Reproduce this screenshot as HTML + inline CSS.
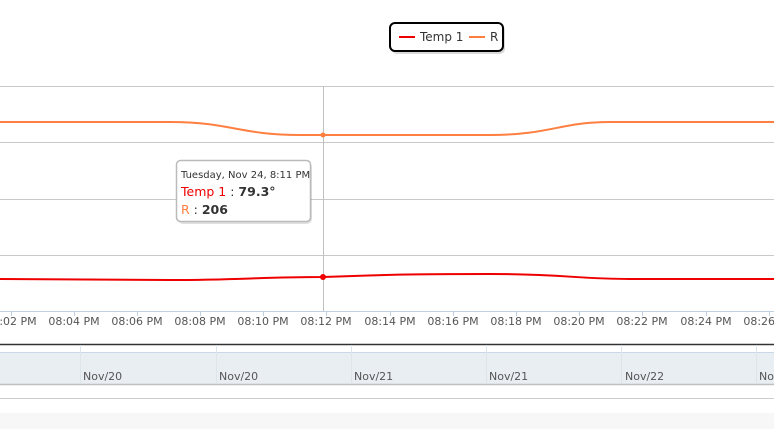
<html><head><style>body{margin:0;background:#fff;font-family:"DejaVu Sans","Liberation Sans",sans-serif;}</style></head><body>
<svg width="774" height="429" xmlns="http://www.w3.org/2000/svg" style="display:block">
<rect x="0" y="413" width="774" height="16" fill="#f7f7f7"/>
<g stroke="#c8c8c8" stroke-width="1">
<line x1="0" y1="86.5" x2="774" y2="86.5"/><line x1="0" y1="142.5" x2="774" y2="142.5"/>
<line x1="0" y1="199.5" x2="774" y2="199.5"/><line x1="0" y1="255.5" x2="774" y2="255.5"/>
</g>
<line x1="0" y1="311.5" x2="774" y2="311.5" stroke="#c0d0e0"/>
<g stroke="#c0d0e0">
<line x1="11.5" y1="311" x2="11.5" y2="316"/><line x1="74.5" y1="311" x2="74.5" y2="316"/><line x1="137.5" y1="311" x2="137.5" y2="316"/><line x1="200.5" y1="311" x2="200.5" y2="316"/><line x1="263.5" y1="311" x2="263.5" y2="316"/><line x1="326.5" y1="311" x2="326.5" y2="316"/><line x1="390.5" y1="311" x2="390.5" y2="316"/><line x1="453.5" y1="311" x2="453.5" y2="316"/><line x1="516.5" y1="311" x2="516.5" y2="316"/><line x1="579.5" y1="311" x2="579.5" y2="316"/><line x1="642.5" y1="311" x2="642.5" y2="316"/><line x1="706.5" y1="311" x2="706.5" y2="316"/><line x1="769.5" y1="311" x2="769.5" y2="316"/>
</g>
<line x1="323.5" y1="86" x2="323.5" y2="311" stroke="#c0c0c0"/>
<path d="M0 122 L170 122 C230 122 240 135 300 135 L490 135 C550 135 560 122 610 122 L774 122" fill="none" stroke="#ff7f40" stroke-width="2"/>
<path d="M0 279 L170 280 C240 280 260 277 323 277 C400 274 440 274 490 274 C560 274 580 279 630 279 L774 279" fill="none" stroke="#ee0000" stroke-width="2"/>
<circle cx="323" cy="135" r="2.5" fill="#ff7f40"/>
<circle cx="323" cy="277" r="3" fill="#ee0000"/>
<g font-size="11" fill="#555" text-anchor="middle">
<text x="11" y="325">08:02 PM</text><text x="74" y="325">08:04 PM</text><text x="137" y="325">08:06 PM</text><text x="200" y="325">08:08 PM</text><text x="263" y="325">08:10 PM</text><text x="326" y="325">08:12 PM</text><text x="390" y="325">08:14 PM</text><text x="453" y="325">08:16 PM</text><text x="516" y="325">08:18 PM</text><text x="579" y="325">08:20 PM</text><text x="642" y="325">08:22 PM</text><text x="706" y="325">08:24 PM</text><text x="769" y="325">08:26 PM</text>
</g>
<line x1="0" y1="344.5" x2="774" y2="344.5" stroke="#333" stroke-width="1.5"/>
<rect x="0" y="352" width="774" height="32" fill="#e9eef3"/>
<line x1="0" y1="352.5" x2="774" y2="352.5" stroke="#c8d8e8"/>
<line x1="0" y1="384.5" x2="774" y2="384.5" stroke="#c0c0c0" stroke-width="1.5"/>
<line x1="0" y1="398.5" x2="774" y2="398.5" stroke="#cccccc"/>
<g stroke="#dde4ea"><line x1="80.5" y1="345" x2="80.5" y2="384"/><line x1="216.5" y1="345" x2="216.5" y2="384"/><line x1="351.5" y1="345" x2="351.5" y2="384"/><line x1="486.5" y1="345" x2="486.5" y2="384"/><line x1="621.5" y1="345" x2="621.5" y2="384"/><line x1="756.5" y1="345" x2="756.5" y2="384"/></g>
<g font-size="11" fill="#555"><text x="83" y="380">Nov/20</text><text x="219" y="380">Nov/20</text><text x="354" y="380">Nov/21</text><text x="489" y="380">Nov/21</text><text x="625" y="380">Nov/22</text><text x="759" y="380">Nov/22</text></g>
<rect x="178" y="162" width="134" height="62" rx="5" fill="#000" opacity="0.12"/>
<rect x="176.5" y="160.5" width="134" height="61" rx="4" fill="#fff" stroke="#bbb" stroke-width="1.5"/>
<text x="181" y="178" font-size="10" fill="#333">Tuesday, Nov 24, 8:11 PM</text>
<text x="181" y="196" font-size="12.5" fill="#ee0000">Temp 1<tspan fill="#333"> :  </tspan><tspan fill="#333" font-weight="bold">79.3°</tspan></text>
<text x="181" y="214" font-size="12.5" fill="#ff7f40">R<tspan fill="#333"> :  </tspan><tspan fill="#333" font-weight="bold">206</tspan></text>
<rect x="392" y="25" width="113" height="29" rx="5" fill="#000" opacity="0.15"/>
<rect x="390" y="23" width="113" height="28" rx="5" fill="#fff" stroke="#000" stroke-width="2"/>
<line x1="399" y1="37" x2="415" y2="37" stroke="#ee0000" stroke-width="2"/>
<text x="420" y="41" font-size="12" fill="#333">Temp 1</text>
<line x1="469" y1="37" x2="485" y2="37" stroke="#ff7f40" stroke-width="2"/>
<text x="490" y="41" font-size="12" fill="#333">R</text>
</svg>
</body></html>
